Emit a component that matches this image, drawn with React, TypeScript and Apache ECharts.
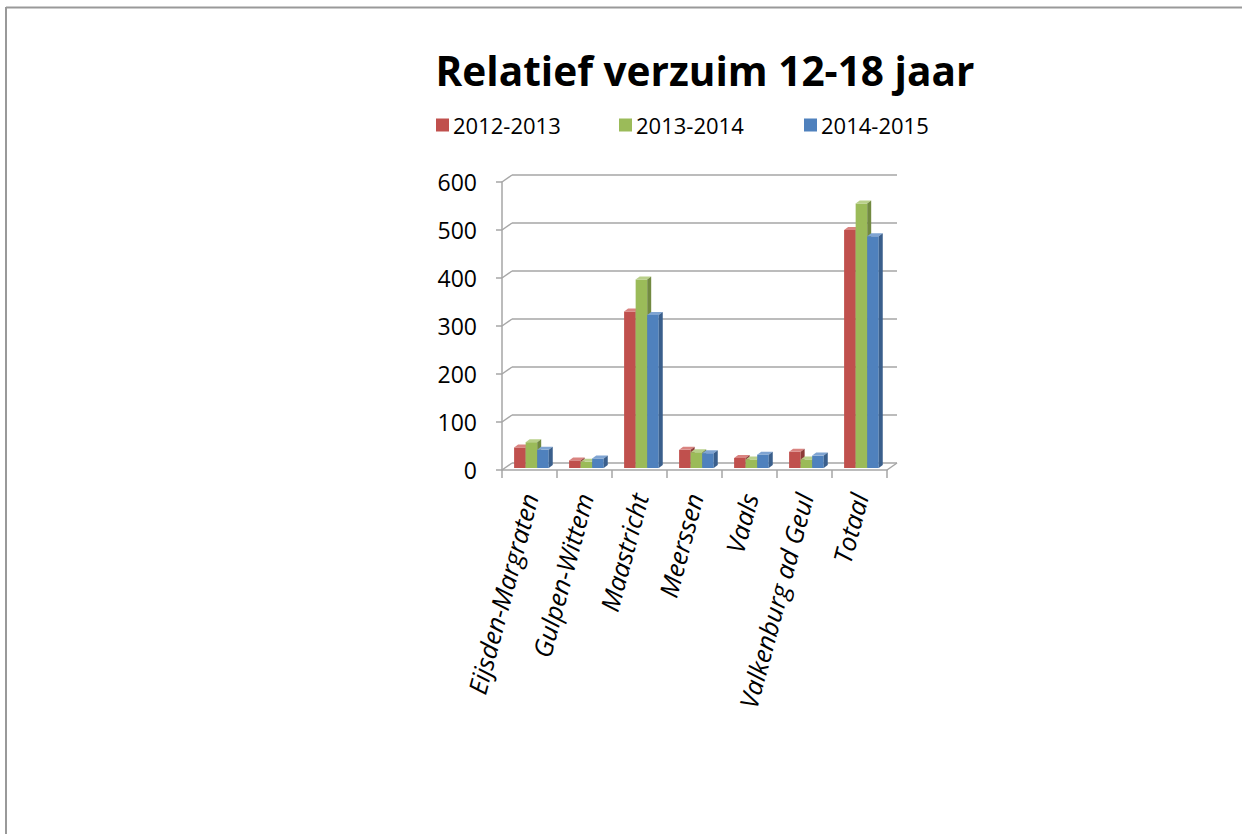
import React, { useEffect, useRef } from "react";
import * as echarts from "echarts";

const categories = [
  "Eijsden-Margraten",
  "Gulpen-Wittem",
  "Maastricht",
  "Meerssen",
  "Vaals",
  "Valkenburg ad Geul",
  "Totaal",
];
const seriesNames = ["2012-2013", "2013-2014", "2014-2015"];
const values2012 = [47, 20, 330, 42, 25, 38, 500];
const values2013 = [58, 17, 397, 37, 22, 22, 555];
const values2014 = [42, 24, 323, 35, 32, 30, 487];
const yTicks = [0, 100, 200, 300, 400, 500, 600];

const frontColors = ["#C0504D", "#9BBB59", "#4F81BD"];
const topColors = ["#D98380", "#B9D08A", "#7FA4D2"];
const sideColors = ["#8C3A38", "#728A41", "#3A5F8C"];

const FONT = "'Open Sans', 'Noto Sans', sans-serif";
const AXIS_GRAY = "#A6A6A6";

function barRenderer(k: number) {
  return (params: any, api: any) => {
    const i = api.value(0);
    const v = api.value(1);
    const top = api.coord([i, v]);
    const base = api.coord([i, 0]);
    const bw = api.size([1, 0])[0];
    const w = bw * 0.21;
    const x = top[0] - bw * 0.28 + k * w;
    const yt = top[1];
    const yb = base[1] - 2;
    const dx = 4;
    const dy = 3;
    return {
      type: "group",
      children: [
        {
          type: "rect",
          shape: { x, y: yt, width: w, height: yb - yt },
          style: { fill: frontColors[k] },
        },
        {
          type: "polygon",
          shape: {
            points: [
              [x, yt],
              [x + dx, yt - dy],
              [x + w + dx, yt - dy],
              [x + w, yt],
            ],
          },
          style: { fill: topColors[k] },
        },
        {
          type: "polygon",
          shape: {
            points: [
              [x + w, yt],
              [x + w + dx, yt - dy],
              [x + w + dx, yb - dy],
              [x + w, yb],
            ],
          },
          style: { fill: sideColors[k] },
        },
      ],
    };
  };
}

function wallRenderer(params: any, api: any) {
  const v = api.value(1);
  const p = api.coord([0, v]);
  const bw = api.size([1, 0])[0];
  const x0 = p[0] - bw / 2;
  const xr = x0 + categories.length * bw;
  const dx = 10;
  const dy = 7;
  const y = p[1];
  const lineStyle = { stroke: AXIS_GRAY, lineWidth: 1.5 };
  const children: any[] = [
    { type: "line", shape: { x1: x0, y1: y, x2: x0 + dx, y2: y - dy }, style: lineStyle },
    { type: "line", shape: { x1: x0 + dx, y1: y - dy, x2: xr + dx, y2: y - dy }, style: lineStyle },
  ];
  if (v === 0) {
    children.push({
      type: "line",
      shape: { x1: xr, y1: y, x2: xr + dx, y2: y - dy },
      style: lineStyle,
    });
  }
  return { type: "group", children };
}

export default function App() {
  const ref = useRef<HTMLDivElement>(null);

  useEffect(() => {
    if (!ref.current) return;
    const chart = echarts.init(ref.current, undefined, { renderer: "svg" });
    const allValues = [values2012, values2013, values2014];
    const legendLefts = [436, 619, 804];

    const option: any = {
      animation: false,
      backgroundColor: "#ffffff",
      title: {
        text: "Relatief verzuim 12-18 jaar",
        left: 700,
        top: 45,
        textAlign: "center",
        textStyle: {
          fontFamily: FONT,
          fontWeight: "bold",
          fontSize: 40.6,
          color: "#000000",
        },
      },
      legend: seriesNames.map((name, k) => ({
        data: [name],
        left: legendLefts[k],
        top: 114,
        padding: 0,
        icon: "rect",
        itemWidth: 13,
        itemHeight: 13,
        itemGap: 0,
        selectedMode: false,
        textStyle: { fontFamily: FONT, fontSize: 22, color: "#000000", padding: [0, 0, 0, -1] },
      })),
      grid: {
        left: 502,
        top: 182,
        width: 385,
        height: 288,
        containLabel: false,
      },
      xAxis: {
        type: "category",
        data: categories,
        boundaryGap: true,
        axisLine: { show: true, lineStyle: { color: AXIS_GRAY, width: 1.5 } },
        axisTick: { show: true, length: 8, lineStyle: { color: AXIS_GRAY, width: 1.5 } },
        axisLabel: {
          rotate: 75,
          margin: 24,
          interval: 0,
          fontFamily: FONT,
          fontStyle: "italic",
          fontSize: 25.5,
          color: "#000000",
        },
        splitLine: { show: false },
      },
      yAxis: {
        type: "value",
        min: 0,
        max: 600,
        interval: 100,
        axisLine: { show: true, lineStyle: { color: AXIS_GRAY, width: 1.5 } },
        axisTick: { show: true, length: 6, lineStyle: { color: AXIS_GRAY, width: 1.5 } },
        axisLabel: {
          margin: 25,
          fontFamily: FONT,
          fontSize: 23,
          color: "#000000",
        },
        splitLine: { show: false },
      },
      series: [
        {
          type: "custom",
          name: "wall",
          renderItem: wallRenderer,
          data: yTicks.map((t) => [0, t]),
          z: 1,
          silent: true,
        },
        ...seriesNames.map((name, k) => ({
          type: "custom",
          name,
          renderItem: barRenderer(k),
          data: allValues[k].map((v, i) => [i, v]),
          itemStyle: { color: frontColors[k] },
          encode: { x: 0, y: 1 },
          z: 2 + k,
        })),
      ],
      graphic: [
        {
          type: "line",
          shape: { x1: 6, y1: 7.5, x2: 1242, y2: 7.5 },
          style: { stroke: "#999999", lineWidth: 2 },
        },
        {
          type: "line",
          shape: { x1: 6, y1: 7, x2: 6, y2: 834 },
          style: { stroke: "#999999", lineWidth: 2 },
        },
      ],
    };
    chart.setOption(option);
    return () => chart.dispose();
  }, []);

  return (
    <div
      ref={ref}
      style={{ position: "absolute", left: 0, top: 0, width: 1242, height: 834 }}
    />
  );
}
